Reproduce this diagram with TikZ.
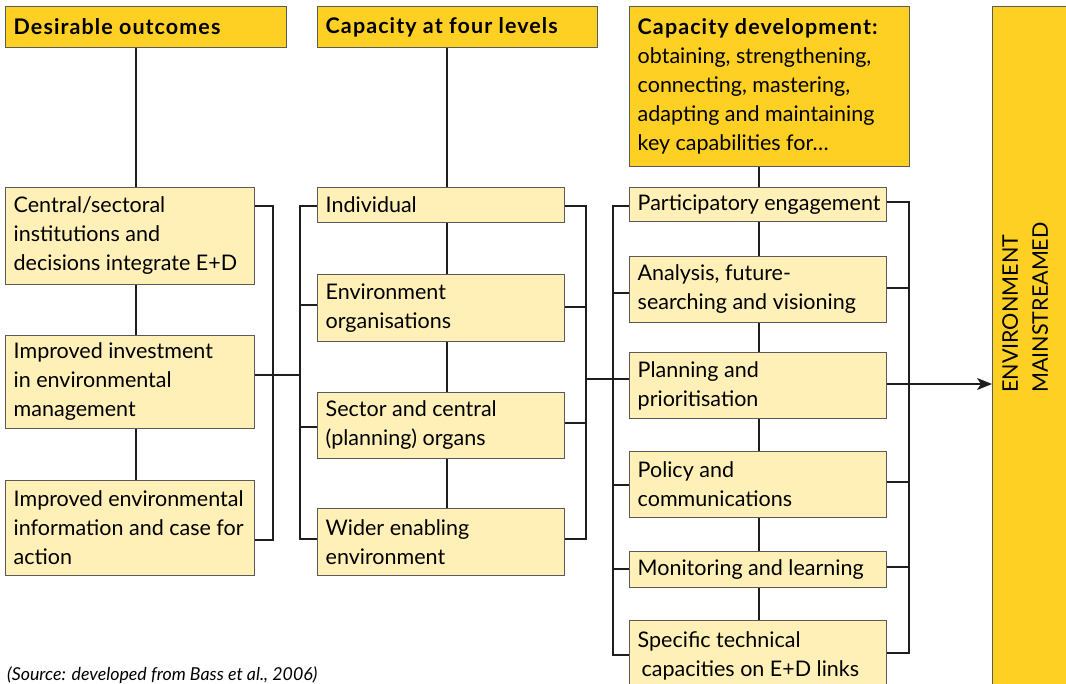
\documentclass[tikz,border=0pt]{standalone}
\usepackage{fontspec}
\setmainfont{Lato}
\usetikzlibrary{arrows.meta,calc}
\definecolor{darky}{RGB}{254,208,36}
\definecolor{lighty}{RGB}{255,240,184}
\definecolor{bordg}{RGB}{90,90,90}
\definecolor{linec}{RGB}{30,30,30}
\newcommand{\hd}[1]{{\bfseries\addfontfeature{LetterSpace=5}#1}}
\tikzset{
  basebox/.style={draw=bordg, line width=1pt, anchor=north west, inner sep=0pt},
  hbox/.style={basebox, fill=darky},
  lbox/.style={basebox, fill=lighty},
  txt/.style={anchor=west, align=left, inner sep=0pt, font=\fontsize{21.5}{29}\selectfont, text=black},
  conn/.style={draw=linec, line width=1.3pt},
  arr/.style={conn, -{Stealth[length=15pt,width=12pt,inset=4pt]}}
}
% name, style, x, y, w, h, text
\newcommand{\ybox}[7]{%
  \node[#2, minimum width=#5pt, minimum height=#6pt] (#1) at (#3,#4) {};
  \node[txt] (#1t) at ([xshift=8.5pt]#1.west) {#7};}
\begin{document}
\begin{tikzpicture}[x=1pt,y=-1pt]
\useasboundingbox (0,0) rectangle (1066,683);
\clip (0,0) rectangle (1066,683);
\fill[white] (0,0) rectangle (1066,683);

% ---- column 1
\ybox{h1}{hbox}{5}{6}{281}{41}{\hd{Desirable outcomes}}
\ybox{b11}{lbox}{5}{187}{249}{97}{Central/sectoral\\institutions and\\decisions integrate E+D}
\ybox{b12}{lbox}{5}{335}{249}{93}{Improved investment\\in environmental\\management}
\ybox{b13}{lbox}{5}{480}{249}{95}{Improved environmental\\information and case for\\action}

% ---- column 2
\ybox{h2}{hbox}{317}{6}{280}{41}{\hd{Capacity at four levels}}
\ybox{b21}{lbox}{317}{187}{247}{35}{Individual}
\ybox{b22}{lbox}{317}{274}{247}{67}{Environment\\organisations}
\ybox{b23}{lbox}{317}{392}{247}{66}{Sector and central\\(planning) organs}
\ybox{b24}{lbox}{317}{508}{247}{67}{Wider enabling\\environment}

% ---- column 3
\ybox{h3}{hbox}{629}{6}{280}{160}{\hd{Capacity development:}\\obtaining, strengthening,\\connecting, mastering,\\adapting and maintaining\\key capabilities for\dots}
\ybox{c1}{lbox}{629}{187}{257}{34}{Participatory engagement}
\ybox{c2}{lbox}{629}{256}{257}{66}{Analysis, future-\\searching and visioning}
\ybox{c3}{lbox}{629}{352}{257}{66}{Planning and\\prioritisation}
\ybox{c4}{lbox}{629}{451}{257}{66}{Policy and\\communications}
\ybox{c5}{lbox}{629}{551}{257}{36}{Monitoring and learning}
\ybox{c6}{lbox}{629}{620}{257}{70}{Specific technical\\\hspace*{4pt}capacities on E+D links}

% ---- right bar
\node[basebox, fill=darky, minimum width=80pt, minimum height=700pt] (em) at (992,6) {};
\node[rotate=90, anchor=north west, inner sep=0pt, align=left, font=\fontsize{21.5}{30}\selectfont] (emt) at (1002,393) {ENVIRONMENT\\MAINSTREAMED};

% ---- source
\node[anchor=base west, inner sep=0pt, font=\fontsize{17.8}{20}\selectfont\itshape] (src) at (7,680) {(Source: developed from Bass et al., 2006)};

% ---- vertical spines within columns
\coordinate (x1) at (136,0);
\coordinate (x2) at (447,0);
\coordinate (x3) at (759,0);
\draw[conn] (h1.south -| x1) -- (b11.north -| x1);
\draw[conn] (b11.south -| x1) -- (b12.north -| x1);
\draw[conn] (b12.south -| x1) -- (b13.north -| x1);
\draw[conn] (h2.south -| x2) -- (b21.north -| x2);
\draw[conn] (b21.south -| x2) -- (b22.north -| x2);
\draw[conn] (b22.south -| x2) -- (b23.north -| x2);
\draw[conn] (b23.south -| x2) -- (b24.north -| x2);
\draw[conn] (h3.south -| x3) -- (c1.north -| x3);
\draw[conn] (c1.south -| x3) -- (c2.north -| x3);
\draw[conn] (c2.south -| x3) -- (c3.north -| x3);
\draw[conn] (c3.south -| x3) -- (c4.north -| x3);
\draw[conn] (c4.south -| x3) -- (c5.north -| x3);
\draw[conn] (c5.south -| x3) -- (c6.north -| x3);

% ---- bracket col1 right (spine x=272)
\draw[conn] ($(b11.north east)+(0,19)$) -| ($(b13.north east)+(18,60)$) -- ($(b13.north east)+(0,60)$);
\draw[conn] ($(b12.north east)+(0,40)$) -- ($(b12.north east)+(46,40)$);

% ---- bracket col2 left (spine x=300)
\draw[conn] ($(b21.north west)+(0,19)$) -| ($(b24.north west)+(-17,31)$) -- ($(b24.north west)+(0,31)$);
\draw[conn] ($(b22.north west)+(0,31)$) -- ++(-17,0);
\draw[conn] ($(b23.north west)+(0,35)$) -- ++(-17,0);

% ---- bracket col2 right (spine x=585)
\draw[conn] ($(b21.north east)+(0,19)$) -| ($(b24.north east)+(21,31)$) -- ($(b24.north east)+(0,31)$);
\draw[conn] ($(b22.north east)+(0,33)$) -- ++(21,0);
\draw[conn] ($(b23.north east)+(0,31)$) -- ++(21,0);
\draw[conn] ($(b23.north east)+(21,-13)$) -- ($(c3.north west)+(-16,27)$);

% ---- bracket col3 left (spine x=613)
\draw[conn] ($(c1.north west)+(0,19)$) -| ($(c6.north west)+(-16,35)$) -- ($(c6.north west)+(0,35)$);
\draw[conn] ($(c2.north west)+(0,37)$) -- ++(-16,0);
\draw[conn] ($(c3.north west)+(0,27)$) -- ++(-16,0);
\draw[conn] ($(c4.north west)+(0,34)$) -- ++(-16,0);
\draw[conn] ($(c5.north west)+(0,18)$) -- ++(-16,0);

% ---- bracket col3 right (spine x=908)
\draw[conn] ($(c1.north east)+(0,15)$) -| ($(c6.north east)+(22,33)$) -- ($(c6.north east)+(0,33)$);
\draw[conn] ($(c2.north east)+(0,32)$) -- ++(22,0);
\draw[conn] ($(c4.north east)+(0,31)$) -- ++(22,0);
\draw[conn] ($(c5.north east)+(0,16)$) -- ++(22,0);
\draw[arr] ($(c3.north east)+(0,32)$) -- ($(em.north west)+(0,378)$);
\end{tikzpicture}
\end{document}
